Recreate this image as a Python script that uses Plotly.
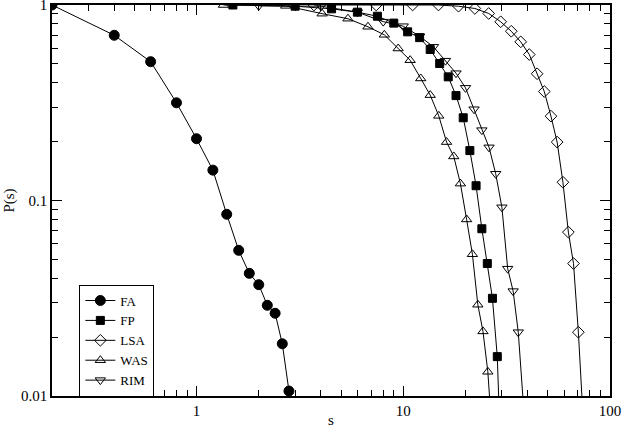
import plotly.graph_objects as go

# survival probability P(s) for each model
fa_s = [0.2, 0.4, 0.6, 0.8, 1.0, 1.2, 1.4, 1.6, 1.8, 2.0, 2.2, 2.4, 2.6, 2.8]
fa_p = [1.0, 0.70, 0.513, 0.316, 0.207, 0.143, 0.085, 0.0556, 0.0424, 0.0371,
        0.0291, 0.0265, 0.0185, 0.0106]

fp_s = [1.5, 3, 4.5, 6, 7.5, 9, 10.5, 12, 13.5, 15, 16.5, 18, 19.5, 21, 22.5,
        24, 25.5, 27, 28.5, 30]
fp_p = [1.0, 0.986, 0.956, 0.919, 0.876, 0.808, 0.729, 0.681, 0.592, 0.502,
        0.429, 0.344, 0.265, 0.180, 0.119, 0.0717, 0.0476, 0.0316, 0.0159, 0.0033]

lsa_s = [3.7, 7.4, 11.1, 14.8, 18.5, 22.2, 25.9, 29.6, 33.3, 37.0, 40.7, 44.4,
         48.1, 51.8, 55.5, 59.2, 62.9, 66.6, 70.3, 74.0]
lsa_p = [1.0, 1.0, 1.0, 1.0, 0.986, 0.960, 0.905, 0.821, 0.734, 0.648, 0.558,
         0.445, 0.361, 0.270, 0.199, 0.124, 0.0689, 0.0476, 0.0212, 0.008]

was_s = [1.35, 2.7, 4.05, 5.4, 6.75, 8.1, 9.45, 10.8, 12.15, 13.5, 14.85, 16.2,
         17.55, 18.9, 20.25, 21.6, 22.95, 24.3, 25.65, 27.0]
was_p = [1.0, 0.99, 0.903, 0.851, 0.774, 0.704, 0.599, 0.522, 0.421, 0.346,
         0.271, 0.199, 0.168, 0.122, 0.080, 0.0531, 0.0293, 0.0214, 0.0133, 0.006]

rim_s = [2, 4, 6, 8, 10, 12, 14, 16, 18, 20, 22, 24, 26, 28, 30, 32, 34, 36, 38]
rim_p = [0.99, 0.986, 0.919, 0.822, 0.779, 0.692, 0.611, 0.519, 0.448, 0.377,
         0.293, 0.229, 0.187, 0.137, 0.0923, 0.0448, 0.0344, 0.0212, 0.0095]

x_major = [1, 10, 100]
y_major = [0.01, 0.1, 1]
x_minor = [m * d for d in (0.1, 1, 10) for m in range(2, 10)]
y_minor = [m * d for d in (0.01, 0.1) for m in range(2, 10)]

series = [
    ("FA", fa_s, fa_p, "circle", 10),
    ("FP", fp_s, fp_p, "square", 8),
    ("LSA", lsa_s, lsa_p, "diamond-open", 9),
    ("WAS", was_s, was_p, "triangle-up-open", 9),
    ("RIM", rim_s, rim_p, "triangle-down-open", 9),
]

SERIF = "Liberation Serif, Times New Roman, serif"

fig = go.Figure()
for name, xs, ys, symbol, size in series:
    fig.add_trace(go.Scatter(
        x=xs, y=ys, name=name, mode="lines+markers",
        line=dict(color="black", width=1),
        marker=dict(symbol=symbol, size=size, color="black",
                    line=dict(color="black", width=1)),
    ))

axis_style = dict(
    type="log",
    showgrid=False,
    zeroline=False,
    showline=True,
    linecolor="black",
    linewidth=1.5,
    mirror="allticks",
    ticks="inside",
    ticklen=10,
    tickwidth=1,
    tickcolor="black",
    automargin=False,
    ticklabeloverflow="allow",
    tickfont=dict(family=SERIF, size=15, color="black"),
)

fig.update_xaxes(
    **axis_style,
    range=[-0.69897, 2],
    tickvals=x_major,
    ticktext=[str(v) for v in x_major],
    minor=dict(ticks="inside", ticklen=6, tickwidth=1, tickcolor="black",
               tickvals=x_minor, showgrid=False),
    title=dict(text="s", font=dict(family=SERIF, size=15), standoff=0),
)
fig.update_yaxes(
    **axis_style,
    range=[-2, 0],
    tickvals=y_major,
    ticktext=[str(v) for v in y_major],
    minor=dict(ticks="inside", ticklen=6, tickwidth=1, tickcolor="black",
               tickvals=y_minor, showgrid=False),
    title=dict(text="P(s)", font=dict(family=SERIF, size=15), standoff=3),
)

fig.update_layout(
    width=623,
    height=428,
    margin=dict(l=52, r=13, t=5, b=32),
    paper_bgcolor="white",
    plot_bgcolor="white",
    font=dict(family=SERIF, size=15, color="black"),
    legend=dict(
        x=0.049, y=0.285, xanchor="left", yanchor="top",
        bordercolor="black", borderwidth=1, bgcolor="white",
        font=dict(family=SERIF, size=13),
        tracegroupgap=0, itemwidth=30,
    ),
)

# drop the page's default body margin so the figure sits at the window corner
fig.write_html("out.html", config={"displayModeBar": False},
               post_script="document.body.style.margin='0';")
